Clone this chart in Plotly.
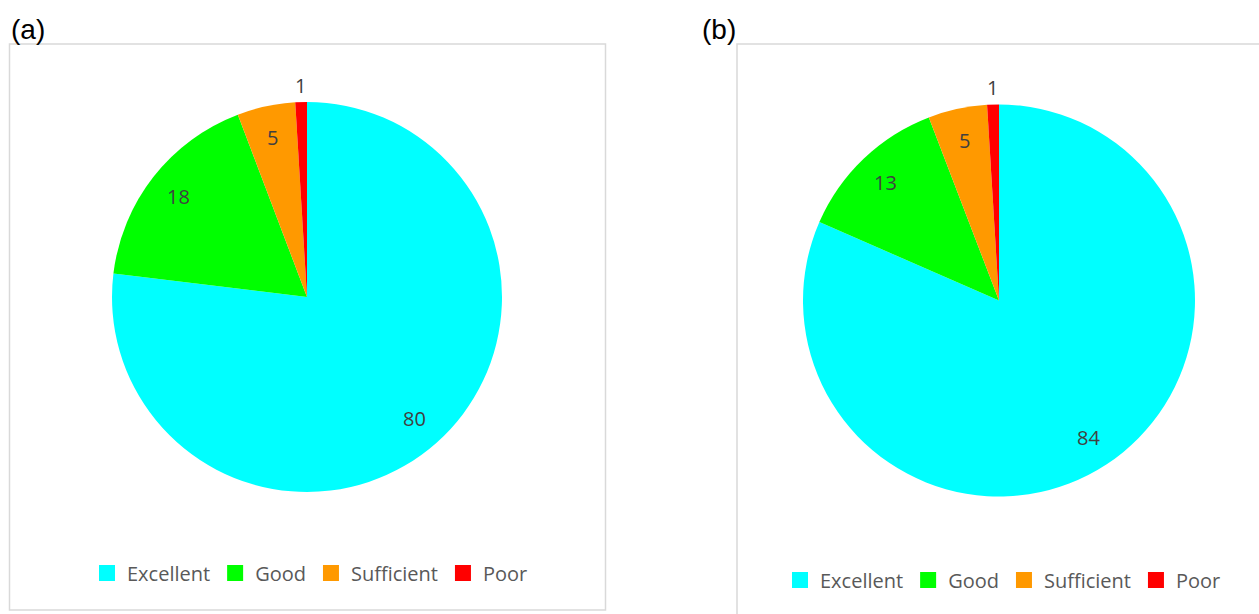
import math
import plotly.graph_objects as go

W, H = 1259, 614

categories = ["Excellent", "Good", "Sufficient", "Poor"]
values_a = [80, 18, 5, 1]
values_b = [84, 13, 5, 1]
colors = ["#00FFFF", "#00FF00", "#FF9900", "#FF0000"]
panel_labels = ["(a)", "(b)"]

FONT = "Open Sans"


def px_x(x):
    return x / W


def px_y(y):
    return 1 - y / H


# pie placements in pixels: (left, right, top, bottom)
pies = [
    dict(values=values_a, box=(112, 502, 102, 492), legend="legend"),
    dict(values=values_b, box=(803, 1195, 104, 497), legend="legend2"),
]

fig = go.Figure()
annotations = []
for p in pies:
    l, r, t, b = p["box"]
    fig.add_trace(go.Pie(
        labels=categories, values=p["values"],
        sort=False, direction="clockwise", rotation=0,
        marker=dict(colors=colors, line=dict(width=0)),
        textinfo="none", showlegend=False,
        domain=dict(x=[px_x(l), px_x(r)], y=[px_y(b), px_y(t)]),
        hoverinfo="label+value",
    ))
    # legend entries (square swatches)
    for c, col in zip(categories, colors):
        fig.add_trace(go.Scatter(
            x=[None], y=[None], mode="markers", name=c,
            marker=dict(symbol="square", size=16, color=col),
            legend=p["legend"], hoverinfo="skip",
        ))
    # value labels placed along each slice's mid-angle
    cx, cy = (l + r) / 2, (t + b) / 2
    rad = min(r - l, b - t) / 2
    total = sum(p["values"])
    cum = 0
    for v in p["values"]:
        mid = (cum + v / 2) / total * 2 * math.pi
        cum += v
        frac = 0.835 if v / total > 0.03 else 1.085
        x = cx + rad * frac * math.sin(mid)
        y = cy - rad * frac * math.cos(mid)
        annotations.append(dict(
            text=str(v), xref="paper", yref="paper", x=px_x(x), y=px_y(y),
            xanchor="center", yanchor="middle", showarrow=False,
            font=dict(family=FONT, size=20, color="#404040")))

annotations += [
    dict(text=panel_labels[0], xref="paper", yref="paper", x=px_x(9), y=px_y(29),
         xanchor="left", yanchor="middle", showarrow=False,
         font=dict(family="Liberation Sans", size=28, color="black")),
    dict(text=panel_labels[1], xref="paper", yref="paper", x=px_x(700), y=px_y(29),
         xanchor="left", yanchor="middle", showarrow=False,
         font=dict(family="Liberation Sans", size=28, color="black")),
]

legend_common = dict(orientation="h", font=dict(family=FONT, size=20, color="#595959"),
                     itemwidth=30, bgcolor="rgba(0,0,0,0)", yanchor="middle",
                     xanchor="center", tracegroupgap=0, itemclick=False,
                     itemdoubleclick=False)
fig.update_layout(
    width=W, height=H,
    margin=dict(l=0, r=0, t=0, b=0),
    paper_bgcolor="white", plot_bgcolor="white",
    showlegend=True,
    xaxis=dict(visible=False, domain=[0, 1]),
    yaxis=dict(visible=False, domain=[0, 1]),
    legend=dict(x=px_x(310), y=px_y(573), **legend_common),
    legend2=dict(x=px_x(1003), y=px_y(580), **legend_common),
    shapes=[
        dict(type="rect", xref="paper", yref="paper",
             x0=px_x(9.5), x1=px_x(605.5), y0=px_y(610), y1=px_y(44),
             line=dict(color="#D9D9D9", width=1.5), layer="below"),
        dict(type="rect", xref="paper", yref="paper",
             x0=px_x(737), x1=px_x(1290), y0=px_y(640), y1=px_y(44),
             line=dict(color="#D9D9D9", width=1.5), layer="below"),
    ],
    annotations=annotations,
)

fig.write_html("out.html", config={"displayModeBar": False},
               post_script="document.body.style.margin='0';document.body.style.overflow='hidden';")
